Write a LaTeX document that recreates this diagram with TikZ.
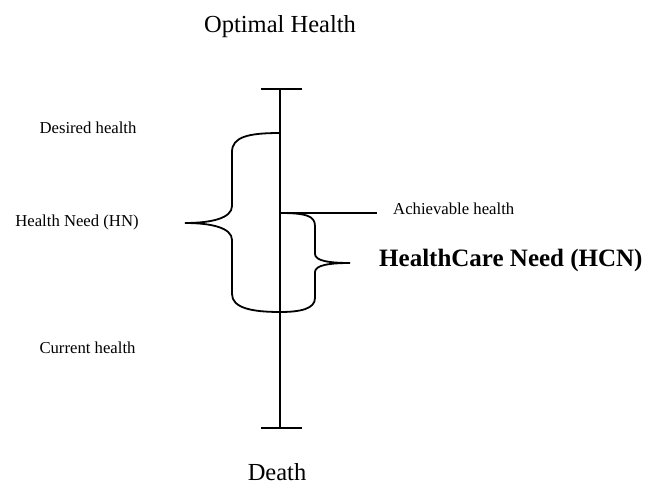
\documentclass[tikz,border=0pt]{standalone}
\usepackage{fontspec}
\setmainfont{Liberation Serif}
\begin{document}
\begin{tikzpicture}[x=1pt,y=-1pt,
  line/.style={line width=1.8pt, line cap=butt},
  small/.style={font=\fontsize{16.7}{20}\selectfont, inner sep=0pt},
  big/.style={font=\fontsize{24.5}{29}\selectfont, inner sep=0pt},
  bigbold/.style={font=\fontsize{25}{30}\selectfont\bfseries, inner sep=0pt}]
\useasboundingbox (0,0) rectangle (657,484);
% axis
\coordinate (top) at (280,89);
\coordinate (bot) at (280,428);
\coordinate (topL) at (261,89);
\coordinate (topR) at (302,89);
\coordinate (botL) at (261,428);
\coordinate (botR) at (302,428);
\coordinate (des) at (280,133);
\coordinate (ach) at (280,213);
\coordinate (achEnd) at (377,213);
\coordinate (cur) at (280,312);
\coordinate (hnTip) at (185,223);
\coordinate (hcnTip) at (350,263);
\draw[line] (top) -- (bot);
\draw[line] (topL) -- (topR);
\draw[line] (botL) -- (botR);
\draw[line] (ach) -- (achEnd);
% big brace
\draw[line] (des) .. controls (248,133) and (232,137) .. (232,152)
  -- (232,206) .. controls (232,218) and (212,223) .. (hnTip)
  .. controls (212,223) and (232,228) .. (232,240)
  -- (232,294) .. controls (232,308) and (252,312) .. (cur);
% small brace
\draw[line] (ach) .. controls (306,213) and (315,216) .. (315,226)
  -- (315,254) .. controls (315,261) and (330,263) .. (hcnTip)
  .. controls (330,263) and (315,265) .. (315,272)
  -- (315,298) .. controls (315,309) and (300,312) .. (cur);
% texts
\node[big, anchor=base] (opt) at (280,33) {Optimal Health};
\node[big, anchor=base, text depth=0pt] (death) at (277,480) {Death};
\node[small, anchor=base] (desired) at (88,134) {Desired health};
\node[small, anchor=base] (hn) at (77,227) {Health Need (HN)};
\node[small, anchor=base] (current) at (87.5,353) {Current health};
\node[small, anchor=base west] (achievable) at (393,215) {Achievable health};
\node[bigbold, anchor=base west] (hcn) at (379,267) {HealthCare Need (HCN)};
\end{tikzpicture}
\end{document}
